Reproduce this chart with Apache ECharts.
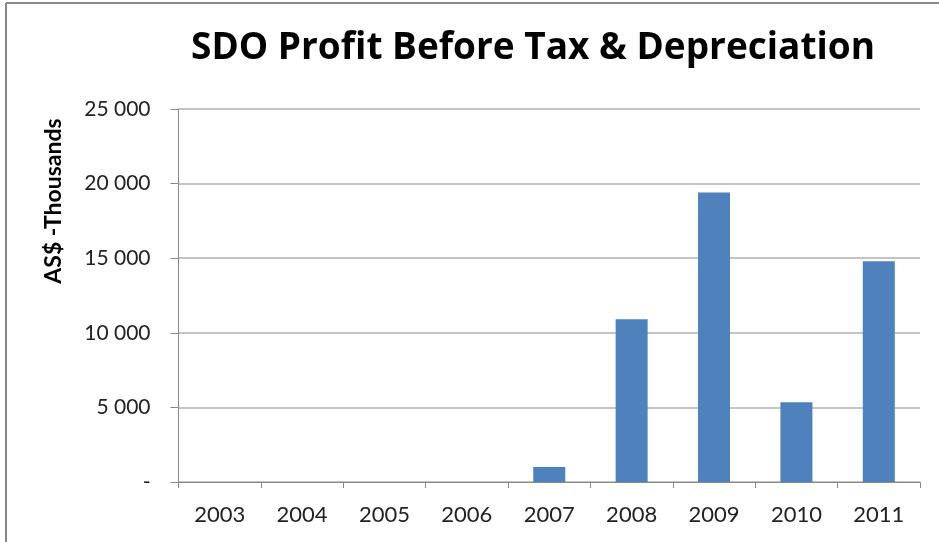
<!DOCTYPE html>
<html><head><meta charset="utf-8">
<script src="https://cdn.jsdelivr.net/npm/echarts@6/dist/echarts.min.js"></script>
<style>html,body{margin:0;padding:0;background:#fff}#c{width:939px;height:542px}</style>
</head><body><div id="c"></div>
<script>
const categories = ['2003','2004','2005','2006','2007','2008','2009','2010','2011'];
const profit = [0,0,0,0,1000,10900,19400,5350,14800];
const yTicks = [0,5000,10000,15000,20000,25000];

const chart = echarts.init(document.getElementById('c'));
chart.setOption({
  animation:false,
  backgroundColor:'#fff',
  title:{text:'SDO Profit Before Tax & Depreciation',left:528,textAlign:'center',top:25,
    textStyle:{fontFamily:'Open Sans',fontWeight:'bold',fontSize:37,color:'#000'}},
  graphic:[
    {type:'line',shape:{x1:6,y1:3,x2:939,y2:3},style:{stroke:'#888',lineWidth:2}},
    {type:'line',shape:{x1:6,y1:3,x2:6,y2:542},style:{stroke:'#888',lineWidth:2}},
    {type:'text',x:54,y:201,rotation:Math.PI/2,style:{text:'AS$ -Thousands',fontFamily:'Lato',fontWeight:'bold',fontSize:23,fill:'#000',align:'center',verticalAlign:'middle'}}
  ],
  grid:{left:178.5,right:19,top:109,bottom:60},
  xAxis:{type:'category',data:categories,
    axisLine:{lineStyle:{color:'#888'}},
    axisTick:{show:true,length:6,lineStyle:{color:'#888'}},
    axisLabel:{margin:22,fontFamily:'Lato',fontSize:22,color:'#222'}},
  yAxis:{type:'value',min:yTicks[0],max:yTicks[yTicks.length-1],interval:5000,
    axisLine:{show:true,lineStyle:{color:'#888'}},
    axisTick:{show:true,length:8,lineStyle:{color:'#888'}},
    splitLine:{lineStyle:{color:'#b0b0b0',width:1.5}},
    axisLabel:{margin:28,fontFamily:'Lato',fontSize:21,color:'#222',
      formatter:v=>v===0?'-':String(v).replace(/\B(?=(\d{3})+(?!\d))/g,' ')}},
  series:[{type:'bar',data:profit,barWidth:32,itemStyle:{color:'#4f81bd'}}]
});
</script></body></html>
